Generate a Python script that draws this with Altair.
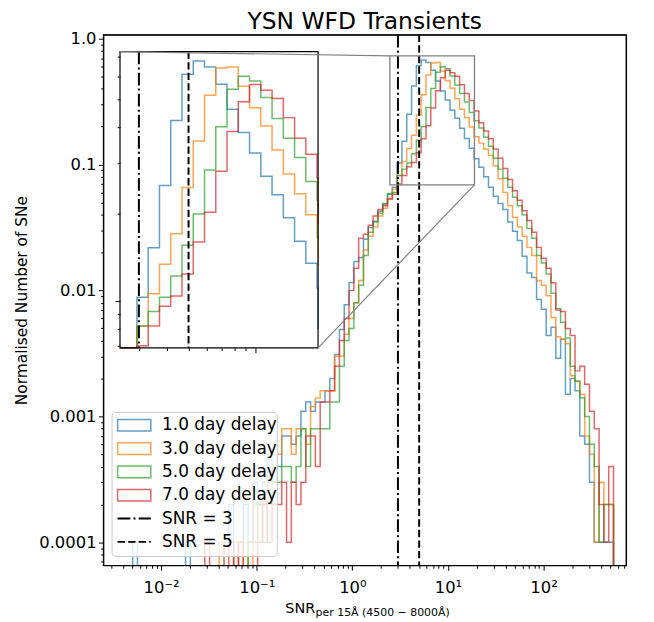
import altair as alt
import numpy as np
import pandas as pd

FONT = "DejaVu Sans"

# ---------------- data ----------------
series_labels = ["1.0 day delay", "3.0 day delay", "5.0 day delay", "7.0 day delay"]
series_colors = ["#1f77b4", "#ff7f0e", "#2ca02c", "#d62728"]

blue = [
    1e-4, 0, 0, 0, 0, 0, 0, 0, 0, 0,
    0, 1e-4, 0, 0, 0, 0, 0, 0, 0, 1e-4,
    2e-4, 0, 1e-4, 2e-4, 1e-4, 3e-4, 2e-4, 3e-4, 5e-4, 3e-4,
    4e-4, 7e-4, 7e-4, 6e-4, 7e-4, 1.1e-3, 1.3e-3, 1.1e-3, 1.3e-3, 1.3e-3,
    1.6e-3, 2.0e-3, 3.1e-3, 4.9e-3, 7.7e-3, 0.0116, 0.017, 0.0183, 0.0255, 0.0317,
    0.0354, 0.0425, 0.0483, 0.058, 0.066, 0.103, 0.153, 0.251, 0.421, 0.609,
    0.677, 0.645, 0.562, 0.461, 0.383, 0.325, 0.270, 0.233, 0.194, 0.161,
    0.135, 0.111, 0.095, 0.080, 0.066, 0.056, 0.049, 0.044, 0.035, 0.0295,
    0.025, 0.0187, 0.0138, 0.0127, 0.0085, 0.0071, 0.0044, 0.0051, 0.0029, 0.0041,
    0.0015, 0.0020, 0.0016, 0.0007, 0.0006, 0.0003, 0.0001, 0.0001, 0.0001, 0.0001,
]
orange = [
    0, 0, 0, 0, 0, 0, 0, 0, 0, 0,
    0, 0, 0, 0, 0, 0, 0, 0, 1e-4, 0,
    0, 1e-4, 0, 1e-4, 0, 2e-4, 1e-4, 2e-4, 3e-4, 4e-4,
    5e-4, 8e-4, 8e-4, 5e-4, 8e-4, 8e-4, 6e-4, 1.2e-3, 1.4e-3, 1.6e-3,
    1.6e-3, 1.6e-3, 3.0e-3, 3.0e-3, 4.5e-3, 6.0e-3, 8.0e-3, 0.012, 0.021, 0.027,
    0.032, 0.039, 0.045, 0.054, 0.064, 0.082, 0.106, 0.134, 0.171, 0.247,
    0.358, 0.515, 0.640, 0.645, 0.553, 0.466, 0.403, 0.333, 0.275, 0.235,
    0.199, 0.166, 0.148, 0.133, 0.118, 0.098, 0.077, 0.060, 0.047, 0.038,
    0.032, 0.027, 0.022, 0.019, 0.0120, 0.0110, 0.0091, 0.0061, 0.0043, 0.0041,
    0.0038, 0.0021, 0.0019, 0.0015, 0.0007, 0.0005, 0.0001, 0.0003, 0.0002, 0.0002,
]
green = [
    0, 0, 0, 0, 0, 0, 0, 0, 0, 0,
    0, 0, 0, 0, 0, 0, 0, 0, 0, 0,
    0, 0, 0, 0, 1e-4, 1e-4, 2e-4, 1e-4, 2e-4, 3e-4,
    3e-4, 4e-4, 4e-4, 3e-4, 4e-4, 8e-4, 4e-4, 8e-4, 8e-4, 8e-4,
    8e-4, 1.3e-3, 1.3e-3, 2.5e-3, 4.0e-3, 5.0e-3, 8.0e-3, 0.011, 0.019, 0.029,
    0.035, 0.041, 0.049, 0.059, 0.060, 0.082, 0.092, 0.103, 0.122, 0.156,
    0.200, 0.284, 0.401, 0.540, 0.599, 0.577, 0.506, 0.428, 0.366, 0.314,
    0.259, 0.223, 0.195, 0.165, 0.140, 0.112, 0.092, 0.078, 0.066, 0.055,
    0.047, 0.040, 0.031, 0.026, 0.019, 0.0165, 0.0135, 0.0095, 0.0072, 0.0056,
    0.0042, 0.0025, 0.0019, 0.0014, 0.0010, 0.0006, 0.0004, 0.0001, 0.0002, 0.0002,
]
red = [
    0, 0, 0, 0, 0, 0, 0, 0, 0, 0,
    0, 0, 0, 0, 0, 1e-4, 0, 0, 0, 0,
    1e-4, 0, 1e-4, 0, 0, 0, 1e-4, 2e-4, 1e-4, 2e-4,
    2e-4, 3e-4, 1e-4, 3e-4, 2e-4, 3e-4, 7e-4, 7e-4, 4e-4, 1.3e-3,
    1.3e-3, 1.6e-3, 2.5e-3, 4.0e-3, 6.0e-3, 0.010, 0.015, 0.026, 0.028, 0.033,
    0.039, 0.044, 0.047, 0.053, 0.058, 0.070, 0.082, 0.096, 0.104, 0.124,
    0.160, 0.203, 0.281, 0.386, 0.489, 0.561, 0.536, 0.502, 0.431, 0.366,
    0.322, 0.266, 0.215, 0.185, 0.160, 0.133, 0.112, 0.093, 0.076, 0.062,
    0.052, 0.043, 0.036, 0.029, 0.022, 0.018, 0.015, 0.0115, 0.0070, 0.0068,
    0.0050, 0.0044, 0.0023, 0.0025, 0.0018, 0.0011, 0.0008, 0.0002, 0.0001, 0.0004,
]

snr_cuts = [3, 5]
snr_labels = ["SNR = 3", "SNR = 5"]
legend_labels = series_labels + snr_labels

x_major = [0.01, 0.1, 1, 10, 100]
x_major_labels = ["10⁻²", "10⁻¹", "10⁰", "10¹", "10²"]
y_major = [0.0001, 0.001, 0.01, 0.1, 1]
y_major_labels = ["0.0001", "0.001", "0.01", "0.1", "1.0"]

title_text = "YSN WFD Transients"
ylabel = "Normalised Number of SNe"
xlabel_main = "SNR"
xlabel_sub = "per 15Å (4500 − 8000Å)"

# binning (log10 SNR) and axis ranges
log_lo, log_hi, nbins = -2.298, 2.732, 100
x_dom = [0.002489, 731.0]
y_dom = [6.56e-5, 1.0735]
zoom_x = [2.47, 18.95]
zoom_y = [0.0689, 0.729]

# ---------------- layout ----------------
W, H = 526, 534
IX0, IX1, IY0, IY1 = 16.7, 216.0, 17.0, 315.0   # inset box in plot pixels
DASHDOT = [12.8, 3.2, 2, 3.2]
DASHED = [7.4, 3.2]

edges = np.logspace(log_lo, log_hi, nbins + 1)
FLOOR = 1e-6
rows = []
for lab, vals in zip(series_labels, [blue, orange, green, red]):
    pts = [(edges[0], FLOOR)]
    pts += [(edges[k], v if v > 0 else FLOOR) for k, v in enumerate(vals)]
    pts += [(edges[len(vals)], FLOOR)]
    for i, (xx, yy) in enumerate(pts):
        rows.append({"label": lab, "i": i, "x": float(xx), "v": float(yy)})
hist = pd.DataFrame(rows)
inset_hist = hist[(hist["i"] >= 54) & (hist["i"] <= 74)]

vl_df = pd.DataFrame({"snr": snr_cuts, "label": snr_labels})
rect_df = pd.DataFrame({"x0": [zoom_x[0]], "x1": [zoom_x[1]], "y0": [zoom_y[0]], "y1": [zoom_y[1]]})
leg_df = pd.DataFrame({"label": legend_labels})
one = pd.DataFrame({"a": [0]})


def cond(vals, big, small):
    test = " || ".join(f"datum.value == {v}" for v in vals)
    return {"condition": {"test": test, "value": big}, "value": small}


def label_expr(vals, labs):
    expr = "''"
    for v, l in zip(reversed(vals), reversed(labs)):
        expr = f"datum.value == {v} ? '{l}' : {expr}"
    return expr


def minors(e0, e1, lo, hi):
    out = []
    for e in range(e0, e1 + 1):
        for m in range(2, 10):
            t = round(m * 10.0 ** e, 12)
            if lo <= t <= hi:
                out.append(t)
    return out


x_ticks = sorted(x_major + minors(-3, 2, *x_dom))
y_ticks = sorted(y_major + minors(-5, 0, *y_dom))

cs = alt.Scale(domain=series_labels, range=series_colors)
xs = alt.Scale(type="log", domain=x_dom, nice=False)
ys = alt.Scale(type="log", domain=y_dom, nice=False)

x_axis = alt.Axis(values=x_ticks, labelExpr=label_expr(x_major, x_major_labels),
                  tickSize=cond(x_major, 4.9, 2.8), tickColor="black", tickWidth=1,
                  labelPadding=22.5, labelBaseline="alphabetic", labelFontSize=16.5,
                  labelFont=FONT, labelColor="black", labelOverlap=False, labelFlush=False,
                  grid=False, domain=False, title=None)
y_axis = alt.Axis(values=y_ticks, labelExpr=label_expr(y_major, y_major_labels),
                  tickSize=cond(y_major, 4.9, 2.8), tickColor="black", tickWidth=1,
                  labelPadding=2.5, labelFontSize=16.5, labelFont=FONT, labelColor="black",
                  labelOverlap=False, labelFlush=False, grid=False, domain=False,
                  title=ylabel, titleFont=FONT, titleFontSize=15.5, titleFontWeight="normal",
                  titleColor="black", titleX=-82, titleY=H / 2, titleAngle=-90,
                  titleBaseline="middle", titleAlign="center")

# ---------------- main panel ----------------
main_lines = alt.Chart(hist).mark_line(interpolate="step-after", clip=True, strokeWidth=1.5,
                                       opacity=0.7).encode(
    x=alt.X("x:Q", scale=xs, axis=x_axis),
    y=alt.Y("v:Q", scale=ys, axis=y_axis),
    color=alt.Color("label:N", scale=cs, legend=None),
    order=alt.Order("i:Q"),
)
main_vl = [
    alt.Chart(vl_df[vl_df["snr"] == s]).mark_rule(color="black", strokeWidth=2, strokeDash=d).encode(
        x=alt.X("snr:Q", scale=xs, axis=x_axis), y=alt.value(0), y2=alt.value(H))
    for s, d in zip(snr_cuts, [DASHDOT, DASHED])
]
zoom_rect = alt.Chart(rect_df).mark_rect(fillOpacity=0, stroke="#808080", strokeWidth=1.3).encode(
    x=alt.X("x0:Q", scale=xs, axis=x_axis), x2="x1:Q",
    y=alt.Y("y0:Q", scale=ys, axis=y_axis), y2="y1:Q",
)
main_group = alt.layer(main_lines, *main_vl, zoom_rect)

# ---------------- legend, title, x label, frame ----------------
leg_ys = alt.Scale(type="point", domain=legend_labels, range=[393, 510.3], padding=0)
box = alt.Chart(one).mark_rect(fill="white", fillOpacity=0.8, stroke="#cccccc", strokeWidth=1,
                               cornerRadius=4).encode(
    x=alt.value(8.7), x2=alt.value(175), y=alt.value(380), y2=alt.value(525))
patches = alt.Chart(leg_df[leg_df["label"].isin(series_labels)]).mark_point(
    shape="M-1,-0.35L1,-0.35L1,0.35L-1,0.35Z", size=1116, filled=False, strokeWidth=1.5,
    opacity=0.7).encode(
    x=alt.value(31), y=alt.Y("label:N", scale=leg_ys, axis=None),
    color=alt.Color("label:N", scale=cs, legend=None))
leg_lines = [
    alt.Chart(leg_df[leg_df["label"] == lab]).mark_rule(color="black", strokeWidth=2, strokeDash=d).encode(
        x=alt.value(14.3), x2=alt.value(47.7), y=alt.Y("label:N", scale=leg_ys, axis=None))
    for lab, d in zip(snr_labels, [DASHDOT, DASHED])
]
leg_text = alt.Chart(leg_df).mark_text(align="left", baseline="middle", fontSize=17, font=FONT,
                                       color="black").encode(
    x=alt.value(59), y=alt.Y("label:N", scale=leg_ys, axis=None), text="label:N")
xt_main = alt.Chart(one).mark_text(align="left", baseline="alphabetic", fontSize=14.5, font=FONT,
                                   color="black").encode(
    x=alt.value(183), y=alt.value(582), text=alt.value(xlabel_main))
xt_sub = alt.Chart(one).mark_text(align="left", baseline="alphabetic", fontSize=11, font=FONT,
                                  color="black").encode(
    x=alt.value(213.5), y=alt.value(584.5), text=alt.value(xlabel_sub))
title_mark = alt.Chart(one).mark_text(align="center", baseline="alphabetic", fontSize=23.5, font=FONT,
                                      color="black").encode(
    x=alt.value(W / 2), y=alt.value(-6), text=alt.value(title_text))
frame = alt.Chart(one).mark_rect(fillOpacity=0, stroke="black", strokeWidth=1.1).encode(
    x=alt.value(0), x2=alt.value(W), y=alt.value(0), y2=alt.value(H))
legend_group = alt.layer(frame, box, patches, *leg_lines, leg_text, xt_main, xt_sub, title_mark)

# ---------------- inset ----------------
ixs = alt.Scale(type="log", domain=zoom_x, range=[IX0, IX1], clamp=True, nice=False)
iys = alt.Scale(type="log", domain=zoom_y, range=[IY1, IY0], clamp=True, nice=False)
ix_axis = alt.Axis(orient="bottom", offset=IY1 - H, values=[3, 4, 5, 6, 7, 8, 9, 10], labels=False,
                   domain=False, grid=False, title=None, tickSize=cond([10], 4.9, 2.8),
                   tickColor="black", tickWidth=1, zindex=1)
iy_axis = alt.Axis(orient="left", offset=-IX0,
                   values=[0.07, 0.08, 0.09, 0.1, 0.2, 0.3, 0.4, 0.5, 0.6, 0.7], labels=False,
                   domain=False, grid=False, title=None, tickSize=cond([0.1], 4.9, 2.8),
                   tickColor="black", tickWidth=1, zindex=1)
inset_bg = alt.Chart(one).mark_rect(fill="white").encode(
    x=alt.value(IX0), x2=alt.value(IX1), y=alt.value(IY0), y2=alt.value(IY1))
inset_lines = alt.Chart(inset_hist).mark_line(interpolate="step-after", strokeWidth=1.5,
                                              opacity=0.7).encode(
    x=alt.X("x:Q", scale=ixs, axis=ix_axis),
    y=alt.Y("v:Q", scale=iys, axis=iy_axis),
    color=alt.Color("label:N", scale=cs, legend=None),
    order=alt.Order("i:Q"),
)
inset_vl = [
    alt.Chart(vl_df[vl_df["snr"] == s]).mark_rule(color="black", strokeWidth=2, strokeDash=d).encode(
        x=alt.X("snr:Q", scale=ixs, axis=ix_axis), y=alt.value(IY0), y2=alt.value(IY1))
    for s, d in zip(snr_cuts, [DASHDOT, DASHED])
]
inset_frame = alt.Chart(one).mark_rect(fillOpacity=0, stroke="black", strokeWidth=1.2).encode(
    x=alt.value(IX0), x2=alt.value(IX1), y=alt.value(IY0), y2=alt.value(IY1))
inset_group = alt.layer(inset_bg, inset_lines, *inset_vl, inset_frame)

# ---------------- connectors ----------------
cxs = alt.Scale(type="log", domain=x_dom, nice=False)
cys = alt.Scale(type="log", domain=y_dom, nice=False)
conn_df = pd.DataFrame({"x": [zoom_x[0], zoom_x[1]], "y": [zoom_y[1], zoom_y[0]]})
conns = [
    alt.Chart(conn_df.iloc[[j]]).mark_rule(color="#808080", strokeWidth=1.2).encode(
        x=alt.X("x:Q", scale=cxs, axis=None), y=alt.Y("y:Q", scale=cys, axis=None),
        x2=alt.value(px), y2=alt.value(py))
    for j, (px, py) in enumerate([(IX0, IY0), (IX1, IY1)])
]
conn_group = alt.layer(*conns)

chart = alt.layer(main_group, legend_group, inset_group, conn_group).resolve_scale(
    x="independent", y="independent"
).properties(
    width=W, height=H,
    padding={"left": 96, "top": 25, "right": 20, "bottom": 53},
    autosize="none",
).configure(font=FONT).configure_view(stroke="black", strokeWidth=1.1)

chart.save("out.html", embed_options={"renderer": "svg", "actions": False})
